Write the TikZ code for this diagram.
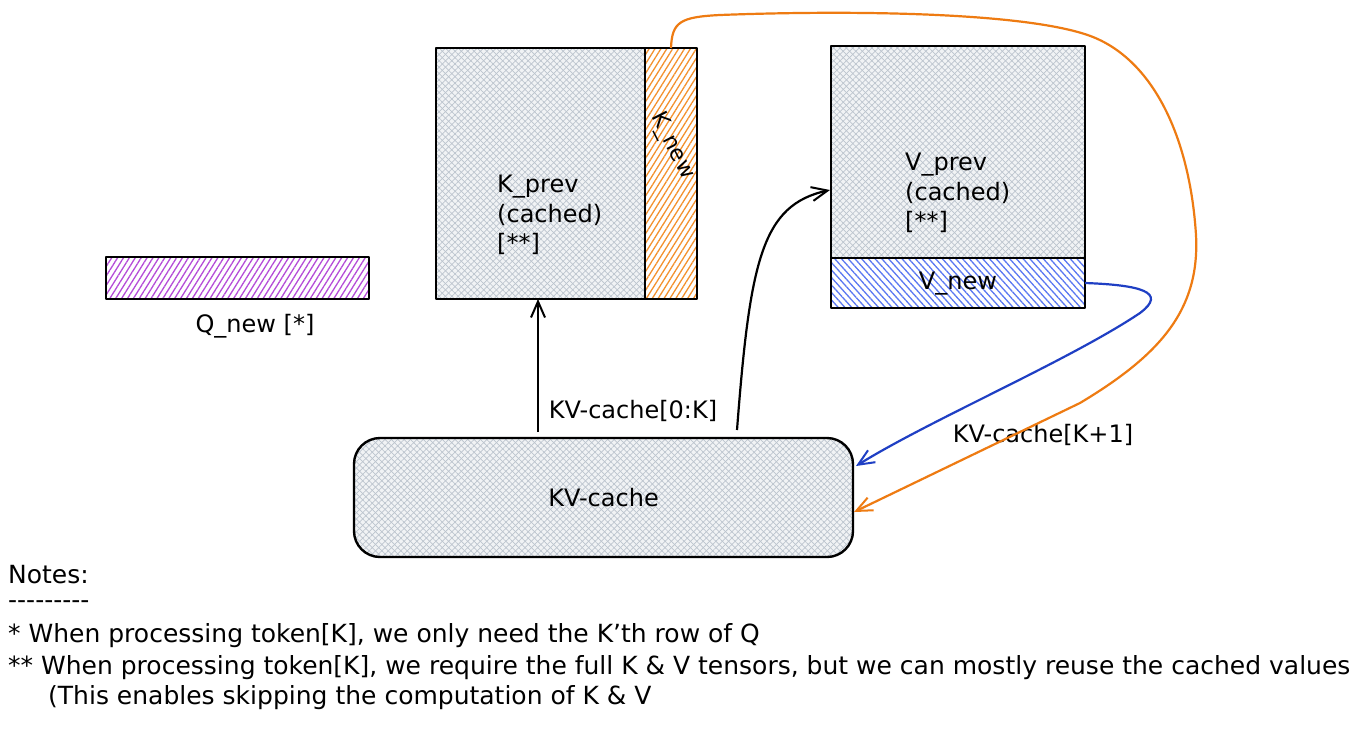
\documentclass[tikz,border=0pt]{standalone}
\usepackage{fontspec}
\setmainfont{DejaVu Sans}
\usetikzlibrary{patterns.meta,arrows.meta}
\definecolor{hgray}{HTML}{BCC4CE}
\definecolor{bgray}{HTML}{F1F3F5}
\definecolor{orng}{HTML}{EE7B12}
\definecolor{horng}{HTML}{F3912E}
\definecolor{blu}{HTML}{1F3FC4}
\definecolor{hblue}{HTML}{5B78F2}
\definecolor{purp}{HTML}{B54CD8}
\newcommand\hy{\mbox{-}}
\begin{document}
\begin{tikzpicture}[x=1pt,y=-1pt,
  every node/.style={font=\fontsize{24}{29.5}\selectfont, inner sep=0pt},
  boxn/.style={inner sep=0pt, outer sep=0pt},
  boxline/.style={draw=black, line width=2.4pt, line join=round},
  xhatch/.style={preaction={fill=bgray},
    preaction={pattern={Lines[angle=45,distance=4.5pt,line width=0.7pt]},pattern color=hgray},
    preaction={pattern={Lines[angle=-45,distance=4.5pt,line width=0.7pt]},pattern color=hgray}},
  ohatch/.style={preaction={pattern={Lines[angle=58,distance=5pt,line width=1.3pt]},pattern color=horng}},
  bhatch/.style={preaction={pattern={Lines[angle=-48,distance=5pt,line width=1.3pt]},pattern color=hblue}},
  phatch/.style={preaction={pattern={Lines[angle=58,distance=5pt,line width=1.3pt]},pattern color=purp}},
  arr/.style={line width=2.2pt, -{Straight Barb[length=16pt,width=14pt,line width=2pt]}},
  lbl/.style={anchor=west, align=left},
  note/.style={anchor=west, font=\fontsize{25}{30}\selectfont}]
\useasboundingbox[fill=white] (0,0) rectangle (1358,729);

% box nodes
\node[boxn, minimum width=263pt, minimum height=42pt] (qnew) at (237.5,278) {};
\node[boxn, minimum width=209pt, minimum height=251pt] (kprev) at (540.5,173.5) {};
\node[boxn, minimum width=52pt, minimum height=251pt] (knew) at (671,173.5) {};
\node[boxn, minimum width=254pt, minimum height=212pt] (vprev) at (958,152) {};
\node[boxn, minimum width=254pt, minimum height=50pt] (vnew) at (958,283) {};
\node[boxn, minimum width=499pt, minimum height=119pt] (kv) at (603.5,497.5) {};

% fills
\path[phatch] (qnew.north west) rectangle (qnew.south east);
\path[xhatch] (kprev.north west) rectangle (kprev.south east);
\path[ohatch] (knew.north west) rectangle (knew.south east);
\path[xhatch] (vprev.north west) rectangle (vprev.south east);
\path[bhatch] (vnew.north west) rectangle (vnew.south east);
\path[xhatch, rounded corners=26pt] (kv.north west) rectangle (kv.south east);

% borders
\draw[boxline] (qnew.north west) rectangle (qnew.south east);
\draw[boxline] (kprev.north west) rectangle (kprev.south east);
\draw[boxline] (knew.north west) rectangle (knew.south east);
\draw[boxline] (vprev.north west) rectangle (vprev.south east);
\draw[boxline] (vnew.north west) rectangle (vnew.south east);
\draw[boxline, rounded corners=26pt] (kv.north west) rectangle (kv.south east);

% labels
\node (qlbl) at (255,326) {Q\_new [*]};
\node[lbl] (kprevlbl) at (497,215) {K\_prev\\(cached)\\\relax[**]};
\node[lbl] (vprevlbl) at (905,193) {V\_prev\\(cached)\\\relax[**]};
\node (vnewlbl) at (958,284) {V\_new};
\node[rotate=-63, font=\fontsize{22}{26}\selectfont] (knewlbl) at (672,146) {K\_new};
\node (kvlbl) at (kv.center) {KV-cache};
\node (l1) at (633,411) {KV-cache[0:K]};
\node (l2) at (1043,435) {KV-cache[K+1]};

% notes
\node[note] (n0) at (8,575) {Notes:};
\node[note] (n1) at (8,605) {\hy\hy\hy\hy\hy\hy\hy\hy\hy};
\node[note] (n2) at (8,636) {* When processing token[K], we only need the K'th row of Q};
\node[note] (n3) at (8,668) {** When processing token[K], we require the full K \& V tensors, but we can mostly reuse the cached values};
\node[note] (n4) at (48,698) {(This enables skipping the computation of K \& V};

% connectors
\coordinate (s1) at (538,432);
\draw[arr] (s1) -- (s1 |- kprev.south);
\coordinate (s2) at (737,430);
\coordinate (e2) at (830,190);
\draw[arr] (s2) .. controls (750,260) and (762,205) .. (e2);
\coordinate (e3) at (856,466);
\draw[arr, draw=blu] (vnew.east) .. controls (1140,285) and (1168,292) .. (1140,313)
  .. controls (1070,360) and (930,420) .. (e3);
\coordinate (e4) at (854,512);
\draw[arr, draw=orng] (knew.north) .. controls (672,22) and (680,17) .. (720,15)
  .. controls (850,10) and (1030,12) .. (1093,37)
  .. controls (1155,62) and (1190,140) .. (1196,235)
  .. controls (1200,310) and (1160,355) .. (1080,403) -- (e4);
\end{tikzpicture}
\end{document}
